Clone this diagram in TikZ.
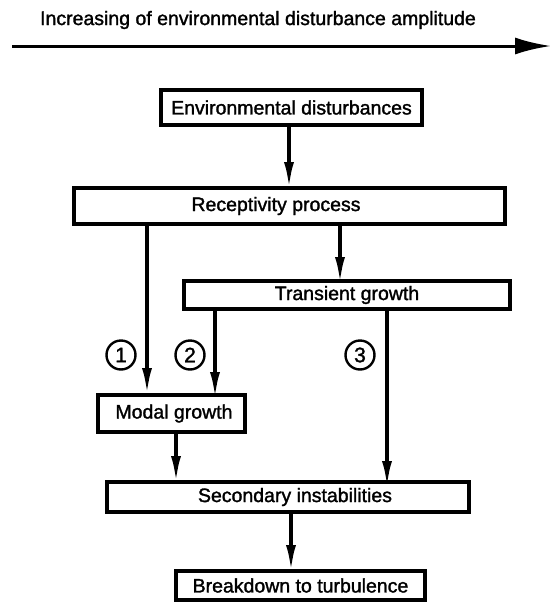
\documentclass[tikz,border=0pt]{standalone}
\usepackage{fontspec}
\setmainfont{Liberation Sans}[UprightFeatures={FakeBold=1.5}]
\usetikzlibrary{arrows.meta}
\begin{document}
\begin{tikzpicture}[x=1pt,y=-1pt,
  box/.style={draw, line width=3.2pt, inner sep=0pt, outer sep=0pt},
  txt/.style={font=\fontsize{19.5}{23}\selectfont},
  arr/.style={line width=3.6pt, -{Latex[length=27pt,width=10pt]}},
  num/.style={draw, circle, line width=2.4pt, minimum size=29pt, inner sep=0pt, font=\fontsize{21}{23}\selectfont}]
\useasboundingbox (0,0) rectangle (551,603);
% top arrow
\node[txt] (title) at (258,20) {Increasing of environmental disturbance amplitude};
\coordinate (L) at (12,46);
\coordinate (R) at (551,46);
\draw[line width=3pt, -{Latex[length=36pt,width=17pt]}] (L) -- (R);
% boxes
\node[box, minimum width=261pt, minimum height=35pt] (env) at (291.5,107.5) {};
\node[txt] (envt) at (env.center) {Environmental disturbances};
\node[box, minimum width=431pt, minimum height=36pt] (rec) at (289.5,206) {};
\node[txt] (rect) at (276,206) {Receptivity process};
\node[box, minimum width=326pt, minimum height=28pt] (trans) at (347,295) {};
\node[txt] (transt) at (347,295) {Transient growth};
\node[box, minimum width=147pt, minimum height=37pt] (modal) at (171.5,413.5) {};
\node[txt] (modalt) at (174,413.5) {Modal growth};
\node[box, minimum width=362pt, minimum height=30pt] (sec) at (288,497) {};
\node[txt] (sect) at (295,497) {Secondary instabilities};
\node[box, minimum width=249pt, minimum height=29pt] (brk) at (300.5,585.5) {};
\node[txt] (brkt) at (brk.center) {Breakdown to turbulence};
% x positions of connectors
\coordinate (xa) at (289,0);
\coordinate (x1) at (147,0);
\coordinate (xb) at (340,0);
\coordinate (x2) at (215,0);
\coordinate (x3) at (387,0);
\coordinate (xc) at (176,0);
\coordinate (xd) at (291,0);
% connectors
\draw[arr] (env.south -| xa) -- ([yshift=-1pt]rec.north -| xa);
\draw[arr] (rec.south -| x1) -- (modal.north -| x1);
\draw[arr] (rec.south -| xb) -- ([yshift=-3pt]trans.north -| xb);
\draw[arr] (trans.south -| x2) -- ([yshift=-4pt]modal.north -| x2);
\draw[arr] (trans.south -| x3) -- ([yshift=-6pt]sec.north -| x3);
\draw[arr] (modal.south -| xc) -- ([yshift=-1pt]sec.north -| xc);
\draw[arr] (sec.south -| xd) -- ([yshift=-1pt]brk.north -| xd);
% numbers
\node[num] (n1) at (121,355) {1};
\node[num] (n2) at (190,355) {2};
\node[num] (n3) at (360,355) {3};
\end{tikzpicture}
\end{document}
